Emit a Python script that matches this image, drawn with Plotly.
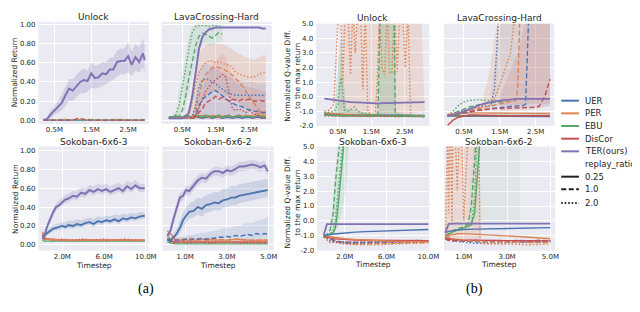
import plotly.graph_objects as go

W, H = 640, 312
COL = {"UER": "#4C72B0", "PER": "#DD8452", "EBU": "#55A868", "DisCor": "#C44E52", "TER": "#8172B3"}
DASH = {"0.25": "solid", "1.0": "5px,2.5px", "2.0": "1.5px,2px"}
METHODS = ["UER", "PER", "EBU", "DisCor", "TER(ours)"]
RATIOS = ["0.25", "1.0", "2.0"]

# ---------------- (a) Unlock ----------------
a1_x = [0.2,0.3,0.4,0.5,0.6,0.7,0.8,0.9,1.0,1.1,1.2,1.3,1.4,1.5,1.6,1.7,1.8,1.9,2.0,2.1,2.2,2.3,2.4,2.5,2.6,2.7,2.8,2.9,2.95]
a1_ter = [0.00,0.01,0.06,0.10,0.14,0.18,0.26,0.33,0.31,0.36,0.40,0.42,0.41,0.49,0.44,0.45,0.49,0.48,0.53,0.53,0.61,0.62,0.62,0.67,0.58,0.66,0.61,0.70,0.63]
a1_ter_lo = [0.00,0.00,0.02,0.05,0.08,0.10,0.15,0.20,0.20,0.24,0.28,0.28,0.30,0.34,0.33,0.34,0.36,0.38,0.40,0.42,0.46,0.48,0.48,0.50,0.46,0.52,0.50,0.55,0.50]
a1_ter_hi = [0.00,0.03,0.10,0.15,0.20,0.27,0.36,0.43,0.43,0.48,0.52,0.54,0.52,0.60,0.57,0.58,0.61,0.60,0.65,0.66,0.73,0.75,0.75,0.82,0.72,0.80,0.76,0.86,0.78]
a1_fx = [0.2,0.5,0.8,1.0,1.15,1.25,1.4,1.8,2.2,2.6,2.95]
a1_dis_dash = [0.0,0.0,0.0,0.0,0.02,0.01,0.0,0.0,0.0,0.0,0.0]
a1_ebu_dash = [0.005,0.0,0.005,0.0,0.005,0.0,0.005,0.0,0.005,0.0,0.005]
a1_uer_sol = [0.0,0.0,0.0,0.0,0.0,0.0,0.0,0.0,0.0,0.0,0.0]
a1_per_dot = [0.01,0.0,0.01,0.0,0.01,0.0,0.01,0.0,0.01,0.0,0.0]

# ---------------- (a) LavaCrossing-Hard ----------------
a2_x = [0.1,0.3,0.5,0.6,0.7,0.8,0.9,1.0,1.1,1.2,1.3,1.4,1.5,1.6,1.7,1.8,1.9,2.0,2.1,2.2,2.3,2.4,2.5,2.6,2.7,2.8,2.9,3.0]
a2_ter = [0.02,0.02,0.02,0.03,0.08,0.25,0.52,0.75,0.87,0.92,0.95,0.96,0.97,0.97,0.97,0.97,0.97,0.97,0.97,0.97,0.97,0.97,0.97,0.97,0.97,0.97,0.96,0.96]
a2_per_dot = [0.02,0.03,0.03,0.04,0.08,0.20,0.38,0.50,0.56,0.60,0.62,0.62,0.60,0.61,0.60,0.58,0.58,0.55,0.50,0.48,0.47,0.46,0.45,0.45,0.46,0.48,0.50,0.50]
a2_per_dash = [0.02,0.02,0.02,0.02,0.02,0.03,0.10,0.25,0.40,0.48,0.52,0.55,0.56,0.55,0.54,0.52,0.50,0.47,0.44,0.40,0.36,0.30,0.25,0.20,0.15,0.10,0.06,0.05]
a2_per_sol = [0.03,0.02,0.03,0.02,0.03,0.04,0.03,0.04,0.05,0.04,0.03,0.05,0.04,0.03,0.04,0.05,0.04,0.03,0.04,0.05,0.04,0.05,0.04,0.05,0.06,0.07,0.08,0.08]
a2_dis_dot = [0.02,0.02,0.02,0.02,0.02,0.03,0.05,0.12,0.22,0.30,0.35,0.40,0.42,0.45,0.48,0.45,0.30,0.12,0.10,0.12,0.10,0.08,0.10,0.08,0.06,0.04,0.02,0.02]
a2_dis_dash = [0.02,0.02,0.02,0.02,0.02,0.02,0.04,0.08,0.12,0.18,0.20,0.22,0.25,0.22,0.24,0.22,0.20,0.22,0.21,0.20,0.22,0.21,0.22,0.20,0.20,0.21,0.20,0.20]
a2_uer_dot = [0.02,0.02,0.02,0.02,0.02,0.04,0.15,0.35,0.42,0.43,0.42,0.40,0.38,0.35,0.32,0.30,0.28,0.27,0.26,0.26,0.26,0.26,0.26,0.26,0.26,0.26,0.26,0.26]
a2_uer_dash = [0.02,0.02,0.02,0.02,0.02,0.02,0.05,0.15,0.22,0.25,0.27,0.30,0.31,0.28,0.25,0.22,0.20,0.18,0.16,0.15,0.14,0.12,0.11,0.10,0.09,0.09,0.08,0.08]
a2_low1 = [0.03,0.03,0.02,0.03,0.03,0.02,0.03,0.03,0.02,0.03,0.03,0.02,0.03,0.03,0.02,0.03,0.03,0.02,0.03,0.03,0.02,0.03,0.03,0.02,0.03,0.03,0.02,0.03]
a2_low2 = [0.03,0.04,0.03,0.05,0.04,0.03,0.05,0.04,0.03,0.05,0.04,0.03,0.04,0.05,0.03,0.04,0.05,0.03,0.04,0.05,0.03,0.04,0.04,0.03,0.04,0.05,0.04,0.03]
a2_floor = [0.01,0.01,0.01,0.01,0.01,0.01,0.01,0.01,0.01,0.01,0.01,0.01,0.01,0.01,0.01,0.01,0.01,0.01,0.01,0.01,0.01,0.01,0.01,0.01,0.01,0.01,0.01,0.01]
a2_per_lo = [0.02,0.02,0.02,0.02,0.03,0.05,0.08,0.15,0.20,0.25,0.28,0.30,0.30,0.28,0.28,0.26,0.24,0.22,0.20,0.18,0.16,0.14,0.12,0.10,0.08,0.06,0.04,0.04]
a2_per_hi = [0.03,0.04,0.05,0.06,0.15,0.35,0.55,0.70,0.75,0.78,0.80,0.80,0.80,0.80,0.80,0.78,0.76,0.74,0.72,0.70,0.68,0.66,0.65,0.64,0.64,0.66,0.68,0.68]
a2_dis_hi = [0.02,0.02,0.02,0.02,0.03,0.05,0.10,0.22,0.35,0.45,0.52,0.58,0.62,0.66,0.70,0.66,0.55,0.45,0.40,0.38,0.36,0.35,0.35,0.34,0.33,0.32,0.30,0.30]
a2_uer_hi = [0.02,0.02,0.02,0.02,0.03,0.06,0.25,0.50,0.58,0.60,0.58,0.56,0.55,0.52,0.50,0.48,0.46,0.44,0.42,0.42,0.41,0.40,0.40,0.40,0.39,0.38,0.38,0.38]
a2_ebu_x = [0.1,0.2,0.3,0.4,0.5,0.6,0.7,0.8,0.9,1.0,1.1,1.2,1.3,1.4,1.5,1.6,1.7]
a2_ebu_dot = [0.02,0.03,0.05,0.15,0.33,0.55,0.75,0.92,0.98,0.99,0.99,0.99,0.98,0.99,0.99,0.98,0.99]
a2_ebu_dash = [0.02,0.02,0.03,0.04,0.10,0.25,0.45,0.63,0.78,0.88,0.91,0.90,0.88,0.86,0.89,0.92,0.90]
a2_ebu_lo = [0.02,0.02,0.02,0.03,0.05,0.12,0.30,0.48,0.62,0.72,0.78,0.80,0.78,0.78,0.80,0.82,0.82]
a2_ebu_hi = [0.03,0.05,0.10,0.30,0.50,0.72,0.88,0.98,1.0,1.0,1.0,1.0,1.0,1.0,1.0,1.0,1.0]

# ---------------- (a) Sokoban-6x6-3 ----------------
a3_x = [0.1,0.3,0.5,0.8,1.1,1.4,1.7,2.0,2.3,2.6,3.0,3.4,3.8,4.2,4.6,5.0,5.4,5.8,6.2,6.6,7.0,7.4,7.8,8.2,8.6,9.0,9.4,9.9]
a3_ter = [0.06,0.10,0.18,0.27,0.34,0.40,0.42,0.45,0.48,0.49,0.52,0.51,0.55,0.54,0.58,0.56,0.59,0.57,0.59,0.56,0.58,0.60,0.57,0.62,0.59,0.63,0.60,0.60]
a3_ter_lo = [0.04,0.07,0.14,0.23,0.30,0.36,0.38,0.41,0.44,0.45,0.48,0.47,0.51,0.50,0.54,0.52,0.55,0.53,0.55,0.52,0.54,0.56,0.53,0.58,0.55,0.59,0.56,0.56]
a3_ter_hi = [0.08,0.13,0.22,0.31,0.38,0.44,0.47,0.50,0.53,0.54,0.57,0.57,0.61,0.60,0.63,0.62,0.65,0.63,0.65,0.62,0.64,0.66,0.63,0.68,0.66,0.69,0.65,0.64]
a3_uer = [0.09,0.10,0.12,0.15,0.17,0.18,0.19,0.20,0.19,0.21,0.20,0.22,0.21,0.23,0.24,0.22,0.25,0.24,0.26,0.25,0.27,0.25,0.28,0.27,0.29,0.28,0.30,0.31]
a3_uer_lo = [0.07,0.08,0.09,0.12,0.14,0.15,0.16,0.17,0.16,0.18,0.17,0.19,0.18,0.20,0.21,0.19,0.22,0.21,0.23,0.22,0.24,0.22,0.25,0.24,0.26,0.25,0.27,0.28]
a3_uer_hi = [0.11,0.13,0.16,0.19,0.21,0.22,0.23,0.24,0.24,0.26,0.25,0.27,0.26,0.28,0.29,0.27,0.30,0.29,0.31,0.30,0.32,0.31,0.33,0.32,0.34,0.33,0.35,0.34]
a3_fx = [0.1,0.3,0.6,1.0,2.0,3.0,4.0,5.0,6.0,7.0,8.0,9.0,9.9]
a3_per_sol = [0.14,0.08,0.06,0.06,0.05,0.05,0.05,0.05,0.05,0.05,0.05,0.05,0.05]
a3_per_dot = [0.12,0.06,0.05,0.05,0.05,0.04,0.05,0.05,0.04,0.05,0.05,0.04,0.05]
a3_dis_sol = [0.08,0.07,0.06,0.06,0.05,0.05,0.05,0.05,0.05,0.05,0.05,0.05,0.05]
a3_dis_dot = [0.10,0.06,0.06,0.05,0.06,0.05,0.06,0.05,0.06,0.05,0.06,0.05,0.05]
a3_ebu_sol = [0.05,0.04,0.04,0.04,0.04,0.04,0.04,0.04,0.04,0.04,0.04,0.04,0.04]

# ---------------- (a) Sokoban-6x6-2 ----------------
a4_x = [0.15,0.3,0.45,0.6,0.75,0.9,1.05,1.2,1.4,1.6,1.8,2.0,2.2,2.4,2.6,2.8,3.0,3.2,3.4,3.6,3.8,4.0,4.2,4.4,4.6,4.8,4.95]
a4_ter = [0.09,0.15,0.28,0.40,0.50,0.52,0.58,0.57,0.63,0.68,0.71,0.70,0.75,0.78,0.78,0.76,0.79,0.78,0.80,0.83,0.83,0.84,0.85,0.84,0.82,0.84,0.78]
a4_ter_lo = [0.07,0.11,0.22,0.34,0.45,0.47,0.53,0.52,0.58,0.63,0.66,0.65,0.70,0.73,0.73,0.71,0.74,0.73,0.75,0.78,0.78,0.79,0.80,0.79,0.77,0.79,0.73]
a4_ter_hi = [0.11,0.19,0.33,0.46,0.55,0.57,0.63,0.62,0.68,0.73,0.76,0.75,0.80,0.83,0.83,0.81,0.84,0.83,0.85,0.88,0.88,0.89,0.90,0.89,0.87,0.89,0.83]
a4_uer = [0.06,0.05,0.08,0.12,0.18,0.26,0.31,0.35,0.36,0.40,0.38,0.42,0.43,0.45,0.44,0.47,0.48,0.50,0.50,0.52,0.53,0.54,0.55,0.56,0.57,0.58,0.58]
a4_uer_lo = [0.04,0.03,0.05,0.08,0.12,0.19,0.24,0.28,0.29,0.32,0.30,0.34,0.35,0.37,0.36,0.39,0.40,0.42,0.42,0.44,0.45,0.46,0.47,0.48,0.49,0.50,0.50]
a4_uer_hi = [0.08,0.08,0.12,0.17,0.25,0.34,0.40,0.44,0.46,0.50,0.49,0.53,0.54,0.56,0.56,0.59,0.60,0.62,0.62,0.64,0.65,0.66,0.67,0.68,0.69,0.70,0.70]
a4_uer_dash = [0.05,0.04,0.05,0.05,0.05,0.05,0.06,0.05,0.06,0.06,0.07,0.06,0.07,0.07,0.08,0.08,0.09,0.08,0.10,0.09,0.10,0.11,0.10,0.12,0.11,0.12,0.11]
a4_uer_dash_lo = [0.04,0.03,0.03,0.03,0.03,0.03,0.04,0.03,0.04,0.04,0.04,0.04,0.04,0.04,0.05,0.05,0.05,0.05,0.06,0.05,0.06,0.06,0.06,0.07,0.06,0.07,0.06]
a4_uer_dash_hi = [0.06,0.06,0.07,0.08,0.08,0.09,0.10,0.10,0.11,0.12,0.13,0.13,0.14,0.15,0.16,0.17,0.18,0.18,0.20,0.20,0.22,0.23,0.23,0.25,0.26,0.28,0.30]
a4_fx = [0.15,0.3,0.5,0.8,1.2,1.6,2.0,2.5,3.0,3.5,4.0,4.95]
a4_per_sol = [0.15,0.12,0.06,0.05,0.05,0.05,0.06,0.05,0.05,0.06,0.05,0.05]
a4_per_dash = [0.08,0.06,0.05,0.06,0.07,0.06,0.05,0.06,0.05,0.06,0.05,0.05]
a4_per_dot = [0.12,0.05,0.04,0.03,0.04,0.03,0.04,0.04,0.03,0.04,0.04,0.04]
a4_dis_sol = [0.05,0.04,0.03,0.03,0.03,0.03,0.03,0.03,0.03,0.03,0.03,0.03]
a4_dis_dot = [0.06,0.03,0.02,0.03,0.02,0.03,0.02,0.02,0.03,0.02,0.02,0.02]
a4_ebu_sol = [0.03,0.02,0.01,0.01,0.01,0.01,0.01,0.01,0.01,0.01,0.01,0.01]

# ---------------- (b) Unlock ----------------
b1_x = [0.1,0.3,0.5,0.7,0.9,1.1,1.3,1.5,1.7,1.9,2.1,2.3,2.5,2.7,2.9,3.1]
b1_ter = [-0.12,-0.2,-0.27,-0.32,-0.36,-0.39,-0.42,-0.45,-0.45,-0.44,-0.43,-0.42,-0.41,-0.40,-0.38,-0.36]
b1_uer_sol = [-1.15,-1.2,-1.2,-1.22,-1.22,-1.23,-1.23,-1.24,-1.24,-1.25,-1.25,-1.25,-1.26,-1.26,-1.27,-1.27]
b1_per_sol = [-1.1,-1.15,-1.2,-1.22,-1.25,-1.25,-1.27,-1.28,-1.28,-1.3,-1.3,-1.3,-1.31,-1.31,-1.32,-1.32]
b1_dis_sol = [-1.2,-1.25,-1.27,-1.28,-1.28,-1.29,-1.3,-1.3,-1.3,-1.31,-1.31,-1.32,-1.32,-1.33,-1.33,-1.34]
b1_ebu_sol = [-1.25,-1.28,-1.3,-1.3,-1.31,-1.31,-1.32,-1.32,-1.32,-1.33,-1.33,-1.33,-1.34,-1.34,-1.35,-1.35]
b1_dis_dot = [-1.3,-1.32,-1.3,-1.35,-1.3,-1.35,-1.32,-1.36,-1.3,-1.35,-1.33,-1.37,-1.32,-1.36,-1.34,-1.38]
b1_per_dot_x = [0.1,0.25,0.38,0.45,0.52,0.58,0.65,0.72,0.8,0.88,0.95,1.02,1.1,1.18,1.25,1.32,1.4,1.48,1.56,1.62,1.68,1.75,1.82,1.9,1.98,2.05,2.12,2.2,2.28,2.36,2.44,2.52,2.6,2.68,2.76,2.85,2.95,3.1]
b1_per_dot = [-1.0,-0.9,-0.5,2.5,6,6,1.0,6,6,1.5,6,3.0,6,6,0.5,6,-1.0,-1.2,-1.3,-1.2,1.0,6,2.0,1.5,6,1.7,1.6,6,1.7,6,6,2.0,6,-1.2,-1.3,-1.3,-1.35,-1.35]
b1_ebu_dash_x = [0.1,0.5,1.0,1.5,1.7,1.74,1.78,2.18,2.22,2.6,3.1]
b1_ebu_dash = [-1.25,-1.3,-1.3,-1.3,-1.25,3.0,8.0,8.0,-1.2,-1.3,-1.3]
b1_ebu_dot_x = [0.1,0.4,0.5,0.55,0.6,0.65,0.7,0.8,1.0,1.1,1.2,1.4,2.0,3.1]
b1_ebu_dot = [-1.1,-1.0,-0.5,0.8,1.3,0.0,-0.9,-1.0,-0.7,-1.0,-1.1,-1.2,-1.3,-1.3]
b1_ebu_band_x = [0.1,0.4,0.5,0.58,0.66,0.75,1.0,1.6,1.72,1.76,2.2,2.24,2.5,3.1]
b1_ebu_lo = [-1.3,-1.3,-1.3,-1.2,-1.3,-1.3,-1.3,-1.3,-1.3,-1.3,-1.3,-1.3,-1.3,-1.3]
b1_ebu_hi = [-1.2,-1.0,2.0,4.0,1.5,-0.8,-0.9,-1.2,-1.0,6.0,6.0,-1.0,-1.2,-1.2]
b1_per_band_x = [0.5,0.65,0.8,1.5,2.5,3.0,3.1]
b1_per_lo = [-1.3,-1.3,-1.3,-1.3,-1.3,-1.0,-1.2]
b1_per_hi = [-0.8,5.5,6.0,6.0,6.0,6.0,-1.0]

# ---------------- (b) LavaCrossing-Hard ----------------
b2_x = [0.05,0.2,0.35,0.5,0.65,0.8,0.95,1.1,1.25,1.4,1.55,1.7,1.85,2.0,2.15,2.3,2.45,2.6,2.75,2.9]
b2_ter = [-1.3,-1.25,-1.15,-1.0,-0.85,-0.68,-0.55,-0.45,-0.36,-0.3,-0.25,-0.2,-0.17,-0.15,-0.15,-0.15,-0.15,-0.15,-0.15,-0.15]
b2_dis_sol = [-1.95,-1.6,-1.4,-1.3,-1.25,-1.25,-1.27,-1.28,-1.3,-1.3,-1.3,-1.3,-1.3,-1.3,-1.3,-1.3,-1.3,-1.3,-1.3,-1.3]
b2_ebu_sol = [-1.3,-1.3,-1.28,-1.27,-1.27,-1.27,-1.27,-1.27,-1.27,-1.27,-1.27,-1.27,-1.27,-1.27,-1.27,-1.27,-1.27,-1.27,-1.27,-1.27]
b2_uer_sol = [-1.3,-1.32,-1.33,-1.33,-1.33,-1.33,-1.33,-1.34,-1.34,-1.34,-1.34,-1.34,-1.34,-1.35,-1.35,-1.35,-1.35,-1.35,-1.35,-1.35]
b2_per_sol = [-1.25,-1.2,-1.15,-1.1,-1.1,-1.1,-1.1,-1.12,-1.12,-1.12,-1.15,-1.15,-1.15,-1.15,-1.15,-1.15,-1.15,-1.15,-1.15,-1.15]
b2_dis_dot = [-1.3,-1.3,-1.32,-1.3,-1.28,-1.3,-1.32,-1.3,-1.28,-1.3,-1.32,-1.3,-1.28,-1.3,-1.32,-1.3,-1.28,-1.3,-1.32,-1.3]
b2_dis_dash = [-1.3,-1.2,-1.1,-1.05,-1.0,-0.95,-0.9,-0.85,-0.82,-0.8,-0.8,-0.78,-0.78,-0.76,-0.75,-0.75,-0.72,-0.65,0.0,1.2]
b2_ebu_dot_x = [0.05,0.2,0.35,0.5,0.65,0.8,0.95,1.1,1.25,1.4]
b2_ebu_dot = [-1.3,-1.0,-0.6,-0.35,-0.25,-0.2,-0.2,-0.25,-0.28,-0.3]
b2_ebu_dash_x = [0.05,0.2,0.35,0.5,0.65,0.8,0.95,1.1,1.25,1.4,1.55,1.7]
b2_ebu_dash = [-1.3,-1.15,-0.95,-0.8,-0.7,-0.6,-0.5,-0.45,-0.4,-0.35,-0.32,-0.3]
b2_uer_dot_x = [0.05,0.2,0.35,0.5,0.65,0.8,0.95,1.1,1.25,1.35,1.42,1.48]
b2_uer_dot = [-1.25,-1.1,-1.0,-0.95,-0.85,-0.8,-0.7,-0.65,-0.6,0.5,3.5,6.0]
b2_per_dot_x = [0.05,0.35,0.65,0.95,1.1,1.25,1.34,1.5,1.7,1.8,1.85,1.9,1.95]
b2_per_dot = [-1.2,-1.1,-0.95,-0.7,-0.5,-0.3,-0.2,0.8,2.3,3.0,4.0,5.5,6.5]
b2_per_dash_x = [0.05,0.35,0.65,0.95,1.25,1.55,1.8,1.95,2.0,2.03,2.06,2.1]
b2_per_dash = [-1.25,-1.1,-0.95,-0.8,-0.65,-0.5,-0.35,-0.25,0.5,3.0,5.5,6.5]
b2_uer_dash_x = [0.05,0.35,0.65,0.95,1.25,1.55,1.85,2.0,2.15,2.22,2.25,2.28,2.32]
b2_uer_dash = [-1.3,-1.2,-1.05,-0.9,-0.8,-0.7,-0.65,-0.62,-0.6,-0.5,1.5,4.5,6.5]
b2_per_band_x = [1.0,1.2,1.35,1.5,2.4,2.9]
b2_per_lo = [-0.9,-0.8,-0.7,-0.6,-0.5,-0.5]
b2_per_hi = [-0.5,1.5,4.0,6.0,6.0,6.0]
b2_dis_band_x = [1.5,2.0,2.3,2.6,2.9]
b2_dis_lo = [-1.0,-0.9,-0.9,-0.8,-0.6]
b2_dis_hi = [0.0,3.0,6.0,6.0,6.0]
b2_uer_band_x = [1.2,1.4,1.6,2.2,2.9]
b2_uer_lo = [-0.9,-0.8,-0.8,-0.7,-0.7]
b2_uer_hi = [-0.3,3.0,6.0,6.0,6.0]

# ---------------- (b) Sokoban-6x6-3 ----------------
b3_x = [0.0,0.3,0.6,1.0,1.5,2.0,3.0,4.0,5.0,6.0,7.0,8.0,9.0,10.0]
b3_ter = [-0.95,-0.22,-0.22,-0.22,-0.22,-0.22,-0.21,-0.21,-0.21,-0.21,-0.21,-0.21,-0.22,-0.22]
b3_uer_sol = [-1.0,-0.95,-0.92,-0.88,-0.84,-0.8,-0.75,-0.72,-0.69,-0.66,-0.64,-0.62,-0.6,-0.58]
b3_per_sol = [-1.0,-1.0,-1.05,-1.1,-1.15,-1.2,-1.25,-1.3,-1.32,-1.35,-1.37,-1.38,-1.4,-1.4]
b3_per_dot = [-1.0,-1.2,-1.35,-1.45,-1.5,-1.55,-1.6,-1.62,-1.6,-1.58,-1.55,-1.5,-1.45,-1.45]
b3_per_dash = [-1.0,-1.1,-1.25,-1.35,-1.45,-1.5,-1.55,-1.55,-1.55,-1.5,-1.5,-1.48,-1.45,-1.45]
b3_uer_dot = [-1.0,-1.1,-1.3,-1.4,-1.45,-1.5,-1.5,-1.48,-1.45,-1.45,-1.42,-1.35,-1.3,-1.35]
b3_uer_dash = [-1.0,-1.1,-1.2,-1.3,-1.38,-1.42,-1.45,-1.45,-1.45,-1.42,-1.4,-1.38,-1.35,-1.38]
b3_dis_sol = [-1.05,-1.1,-1.15,-1.2,-1.22,-1.25,-1.28,-1.3,-1.3,-1.32,-1.32,-1.33,-1.33,-1.33]
b3_dis_dot = [-1.1,-1.3,-1.45,-1.4,-1.38,-1.4,-1.42,-1.4,-1.42,-1.4,-1.42,-1.4,-1.42,-1.4]
b3_ebu_x = [0.0,0.3,0.6,0.9,1.1,1.3,1.5,1.7,1.9,2.1]
b3_ebu_dash = [-1.0,-0.9,-0.6,0.5,2.5,4.5,6.0,6.5,6.5,6.5]
b3_ebu_sol = [-1.0,-0.95,-0.9,-0.8,-0.5,0.5,2.0,3.5,5.0,6.5]
b3_ebu_dot = [-1.0,-0.95,-0.85,-0.6,0.0,1.5,3.0,4.5,6.0,6.5]
b3_ebu_band_x = [0.6,0.9,1.3,1.7,2.1,2.4]
b3_ebu_lo = [-0.9,-0.8,-0.5,0.5,2.0,5.0]
b3_ebu_hi = [-0.5,1.5,5.0,6.0,6.0,6.0]

# ---------------- (b) Sokoban-6x6-2 ----------------
b4_x = [0.15,0.3,0.5,0.75,1.0,1.5,2.0,2.5,3.0,3.5,4.0,4.5,5.0]
b4_ter = [-0.8,-0.2,-0.18,-0.18,-0.18,-0.18,-0.18,-0.18,-0.18,-0.18,-0.18,-0.18,-0.18]
b4_uer_sol = [-0.8,-0.7,-0.65,-0.6,-0.58,-0.55,-0.53,-0.52,-0.5,-0.49,-0.47,-0.46,-0.45]
b4_per_sol = [-1.0,-0.95,-0.9,-0.85,-0.85,-0.88,-0.92,-0.96,-1.0,-1.05,-1.1,-1.15,-1.2]
b4_uer_dash = [-1.2,-1.3,-1.3,-1.3,-1.35,-1.4,-1.4,-1.42,-1.4,-1.4,-1.38,-1.35,-1.35]
b4_uer_dot = [-1.2,-1.3,-1.35,-1.4,-1.45,-1.5,-1.5,-1.48,-1.5,-1.48,-1.45,-1.45,-1.4]
b4_per_dash = [-1.0,-1.1,-1.2,-1.25,-1.3,-1.35,-1.4,-1.42,-1.45,-1.45,-1.45,-1.45,-1.45]
b4_dis_sol = [-1.1,-1.2,-1.25,-1.3,-1.3,-1.3,-1.32,-1.32,-1.33,-1.33,-1.33,-1.34,-1.34]
b4_dis_dash = [-1.2,-1.3,-1.35,-1.3,-1.35,-1.3,-1.35,-1.3,-1.35,-1.3,-1.35,-1.3,-1.35]
b4_per_dot_x = [0.15,0.25,0.3,0.35,0.4,0.45,0.5,0.6,0.7,0.8,0.9,1.0,1.2,1.4,1.6,1.7,1.75,2.0,3.0,4.0,5.0]
b4_per_dot = [-1.0,6.0,0.5,6.0,6.0,-0.3,6.0,6.0,2.0,6.0,6.0,0.0,6.0,6.0,6.0,6.0,-1.5,-1.55,-1.55,-1.6,-1.55]
b4_ebu_x = [0.15,0.3,0.5,0.75,1.0,1.2,1.35,1.5,1.6,1.8]
b4_ebu_sol = [-1.0,-0.9,-0.7,-0.55,-0.45,-0.35,-0.2,0.5,2.5,6.5]
b4_ebu_dash = [-1.0,-0.85,-0.65,-0.5,-0.4,-0.2,1.0,4.0,6.5,6.5]
b4_ebu_dot = [-1.0,-0.9,-0.75,-0.6,-0.5,-0.4,-0.3,1.5,5.0,6.5]
b4_per_band_x = [0.15,0.3,1.7,1.8]
b4_per_lo = [-1.2,-1.3,-1.3,-1.5]
b4_per_hi = [-0.8,6.0,6.0,-1.4]
b4_ebu_band_x = [1.2,1.5,2.0,3.0,3.6]
b4_ebu_lo = [-0.4,-0.3,-0.2,-0.2,-0.2]
b4_ebu_hi = [0.5,6.0,6.0,6.0,6.0]

# ---------------- ticks ----------------
a_top_xt = [0.5, 1.5, 2.5]; a_top_xl = ["0.5M", "1.5M", "2.5M"]
sok3_xt = [2, 6, 10]; sok3_xl = ["2.0M", "6.0M", "10.0M"]
sok2_xt = [1, 3, 5]; sok2_xl = ["1.0M", "3.0M", "5.0M"]
ret_yt = [0, 0.2, 0.4, 0.6, 0.8, 1.0]; ret_yl = ["0.00", "0.20", "0.40", "0.60", "0.80", "1.00"]
q_yt = [-2, -1, 0, 1, 2, 3, 4, 5]; q_yl = ["-2.0", "-1.0", "0.0", "1.0", "2.0", "3.0", "4.0", "5.0"]

fig = go.Figure()


def ax_ids(n):
    return ("x" if n == 1 else f"x{n}"), ("y" if n == 1 else f"y{n}")


def rgba(h, a):
    h = h.lstrip("#")
    return f"rgba({int(h[0:2],16)},{int(h[2:4],16)},{int(h[4:6],16)},{a})"


def line(n, x, y, m, r, w=1.4):
    xa, ya = ax_ids(n)
    fig.add_trace(go.Scatter(x=x, y=y, mode="lines", xaxis=xa, yaxis=ya,
                             line=dict(color=COL[m], width=w, dash=DASH[r]),
                             showlegend=False, hoverinfo="skip"))


def band(n, x, lo, hi, m, a=0.2):
    xa, ya = ax_ids(n)
    fig.add_trace(go.Scatter(x=list(x) + list(x)[::-1], y=list(hi) + list(lo)[::-1],
                             mode="lines", fill="toself", fillcolor=rgba(COL[m], a),
                             line=dict(width=0), xaxis=xa, yaxis=ya,
                             showlegend=False, hoverinfo="skip"))


# panel 1: (a) Unlock
band(1, a1_x, a1_ter_lo, a1_ter_hi, "TER", 0.22)
line(1, a1_fx, a1_uer_sol, "UER", "0.25")
line(1, a1_fx, a1_per_dot, "PER", "2.0")
line(1, a1_fx, a1_ebu_dash, "EBU", "1.0")
line(1, a1_fx, a1_dis_dash, "DisCor", "1.0")
line(1, a1_x, a1_ter, "TER", "0.25", 2)

# panel 2: (a) LavaCrossing-Hard
band(2, a2_x, a2_per_lo, a2_per_hi, "PER", 0.2)
band(2, a2_x, a2_floor, a2_dis_hi, "DisCor", 0.13)
band(2, a2_x, a2_floor, a2_uer_hi, "UER", 0.13)
band(2, a2_ebu_x, a2_ebu_lo, a2_ebu_hi, "EBU", 0.14)
line(2, a2_x, a2_low1, "UER", "0.25")
line(2, a2_x, a2_low2, "DisCor", "0.25")
line(2, a2_x, a2_per_sol, "PER", "0.25")
line(2, a2_x, a2_low2, "EBU", "0.25")
line(2, a2_x, a2_uer_dash, "UER", "1.0")
line(2, a2_x, a2_uer_dot, "UER", "2.0")
line(2, a2_x, a2_dis_dash, "DisCor", "1.0")
line(2, a2_x, a2_dis_dot, "DisCor", "2.0")
line(2, a2_x, a2_per_dash, "PER", "1.0")
line(2, a2_x, a2_per_dot, "PER", "2.0")
line(2, a2_ebu_x, a2_ebu_dash, "EBU", "1.0")
line(2, a2_ebu_x, a2_ebu_dot, "EBU", "2.0")
line(2, a2_x, a2_ter, "TER", "0.25", 2)

# panel 3: (a) Sokoban-6x6-3
band(3, a3_x, a3_uer_lo, a3_uer_hi, "UER", 0.2)
band(3, a3_x, a3_ter_lo, a3_ter_hi, "TER", 0.2)
line(3, a3_fx, a3_ebu_sol, "EBU", "0.25")
line(3, a3_fx, a3_dis_sol, "DisCor", "0.25")
line(3, a3_fx, a3_dis_dot, "DisCor", "2.0")
line(3, a3_fx, a3_per_sol, "PER", "0.25")
line(3, a3_fx, a3_per_dot, "PER", "2.0")
line(3, a3_x, a3_uer, "UER", "0.25", 1.8)
line(3, a3_x, a3_ter, "TER", "0.25", 2)

# panel 4: (a) Sokoban-6x6-2
band(4, a4_x, a4_uer_dash_lo, a4_uer_dash_hi, "UER", 0.15)
band(4, a4_x, a4_uer_lo, a4_uer_hi, "UER", 0.2)
band(4, a4_x, a4_ter_lo, a4_ter_hi, "TER", 0.2)
line(4, a4_fx, a4_ebu_sol, "EBU", "0.25")
line(4, a4_fx, a4_dis_sol, "DisCor", "0.25")
line(4, a4_fx, a4_dis_dot, "DisCor", "2.0")
line(4, a4_fx, a4_per_sol, "PER", "0.25")
line(4, a4_fx, a4_per_dash, "PER", "1.0")
line(4, a4_fx, a4_per_dot, "PER", "2.0")
line(4, a4_x, a4_uer_dash, "UER", "1.0")
line(4, a4_x, a4_uer, "UER", "0.25", 1.8)
line(4, a4_x, a4_ter, "TER", "0.25", 2)

# panel 5: (b) Unlock
band(5, b1_per_band_x, b1_per_lo, b1_per_hi, "PER", 0.18)
band(5, b1_ebu_band_x, b1_ebu_lo, b1_ebu_hi, "EBU", 0.22)
line(5, b1_x, b1_uer_sol, "UER", "0.25")
line(5, b1_x, b1_per_sol, "PER", "0.25")
line(5, b1_x, b1_dis_sol, "DisCor", "0.25")
line(5, b1_x, b1_ebu_sol, "EBU", "0.25")
line(5, b1_x, b1_dis_dot, "DisCor", "2.0")
line(5, b1_per_dot_x, b1_per_dot, "PER", "2.0")
line(5, b1_ebu_dot_x, b1_ebu_dot, "EBU", "2.0")
line(5, b1_ebu_dash_x, b1_ebu_dash, "EBU", "1.0")
line(5, b1_x, b1_ter, "TER", "0.25", 1.8)

# panel 6: (b) LavaCrossing-Hard
band(6, b2_per_band_x, b2_per_lo, b2_per_hi, "PER", 0.18)
band(6, b2_uer_band_x, b2_uer_lo, b2_uer_hi, "UER", 0.08)
band(6, b2_dis_band_x, b2_dis_lo, b2_dis_hi, "DisCor", 0.13)
line(6, b2_x, b2_uer_sol, "UER", "0.25")
line(6, b2_x, b2_ebu_sol, "EBU", "0.25")
line(6, b2_x, b2_per_sol, "PER", "0.25")
line(6, b2_x, b2_dis_dot, "DisCor", "2.0")
line(6, b2_x, b2_dis_sol, "DisCor", "0.25")
line(6, b2_ebu_dash_x, b2_ebu_dash, "EBU", "1.0")
line(6, b2_ebu_dot_x, b2_ebu_dot, "EBU", "2.0")
line(6, b2_uer_dot_x, b2_uer_dot, "UER", "2.0")
line(6, b2_uer_dash_x, b2_uer_dash, "UER", "1.0")
line(6, b2_per_dot_x, b2_per_dot, "PER", "2.0")
line(6, b2_per_dash_x, b2_per_dash, "PER", "1.0")
line(6, b2_x, b2_dis_dash, "DisCor", "1.0")
line(6, b2_x, b2_ter, "TER", "0.25", 1.8)

# panel 7: (b) Sokoban-6x6-3
band(7, b3_ebu_band_x, b3_ebu_lo, b3_ebu_hi, "EBU", 0.15)
line(7, b3_x, b3_per_dot, "PER", "2.0")
line(7, b3_x, b3_per_dash, "PER", "1.0")
line(7, b3_x, b3_uer_dot, "UER", "2.0")
line(7, b3_x, b3_uer_dash, "UER", "1.0")
line(7, b3_x, b3_dis_dot, "DisCor", "2.0")
line(7, b3_x, b3_dis_sol, "DisCor", "0.25")
line(7, b3_x, b3_per_sol, "PER", "0.25")
line(7, b3_ebu_x, b3_ebu_sol, "EBU", "0.25")
line(7, b3_ebu_x, b3_ebu_dash, "EBU", "1.0")
line(7, b3_ebu_x, b3_ebu_dot, "EBU", "2.0")
line(7, b3_x, b3_uer_sol, "UER", "0.25")
line(7, b3_x, b3_ter, "TER", "0.25", 1.8)

# panel 8: (b) Sokoban-6x6-2
band(8, b4_per_band_x, b4_per_lo, b4_per_hi, "PER", 0.18)
band(8, b4_ebu_band_x, b4_ebu_lo, b4_ebu_hi, "EBU", 0.07)
line(8, b4_x, b4_uer_dot, "UER", "2.0")
line(8, b4_x, b4_uer_dash, "UER", "1.0")
line(8, b4_x, b4_dis_sol, "DisCor", "0.25")
line(8, b4_x, b4_dis_dash, "DisCor", "1.0")
line(8, b4_x, b4_per_dash, "PER", "1.0")
line(8, b4_per_dot_x, b4_per_dot, "PER", "2.0")
line(8, b4_ebu_x, b4_ebu_sol, "EBU", "0.25")
line(8, b4_ebu_x, b4_ebu_dash, "EBU", "1.0")
line(8, b4_ebu_x, b4_ebu_dot, "EBU", "2.0")
line(8, b4_x, b4_per_sol, "PER", "0.25")
line(8, b4_x, b4_uer_sol, "UER", "0.25")
line(8, b4_x, b4_ter, "TER", "0.25", 1.8)

# ---------------- axes layout (pixel boxes) ----------------
TICKF = dict(family="DejaVu Sans", size=7, color="#262626")
BOX = {
    1: ((31, 143, 10, 115), [0.07, 3.06], [-0.041, 1.031], a_top_xt, a_top_xl, ret_yt, ret_yl, True),
    2: ((156, 268, 10, 115), [-0.12, 3.18], [-0.041, 1.031], a_top_xt, a_top_xl, ret_yt, ret_yl, False),
    3: ((31, 143, 138, 245), [-0.28, 10.28], [-0.062, 1.041], sok3_xt, sok3_xl, ret_yt, ret_yl, True),
    4: ((157, 270, 138, 245), [-0.08, 5.24], [-0.062, 1.041], sok2_xt, sok2_xl, ret_yt, ret_yl, False),
    5: ((313, 428, 12, 117), [-0.15, 3.24], [-2, 5], a_top_xt, a_top_xl, q_yt, q_yl, True),
    6: ((443, 555, 12, 117), [-0.05, 3.02], [-2, 5], a_top_xt, a_top_xl, q_yt, q_yl, False),
    7: ((314, 428, 138, 245), [-0.64, 10.09], [-2, 5], sok3_xt, sok3_xl, q_yt, q_yl, True),
    8: ((443, 556, 138, 245), [0.09, 5.23], [-2, 5], sok2_xt, sok2_xl, q_yt, q_yl, False),
}
lay = {}
for n, (bx, xr, yr, xt, xl, yt, yl, showy) in BOX.items():
    l, r, t, b = bx
    sfx = "" if n == 1 else str(n)
    lay["xaxis" + sfx] = dict(domain=[l / W, r / W], range=xr, anchor="y" + sfx,
                             tickvals=xt, ticktext=xl, showgrid=True, gridcolor="white",
                             gridwidth=1, zeroline=False, showline=False, ticks="", ticklen=0,
                             tickfont=TICKF, ticklabelstandoff=0)
    lay["yaxis" + sfx] = dict(domain=[1 - b / H, 1 - t / H], range=yr, anchor="x" + sfx,
                             tickvals=yt, ticktext=yl, showgrid=True, gridcolor="white",
                             gridwidth=1, zeroline=False, showline=False, ticks="", ticklen=0,
                             showticklabels=showy, tickfont=TICKF, ticklabelstandoff=2)

fig.update_layout(**lay)
fig.update_layout(width=W, height=H, margin=dict(l=0, r=0, t=0, b=0),
                  paper_bgcolor="white", plot_bgcolor="#EAEAF2", showlegend=False)

ann = []


def txt(x, y, s, size=9, angle=0, family="DejaVu Sans", xanchor="center", color="#262626"):
    ann.append(dict(x=x / W, y=1 - y / H, xref="paper", yref="paper", text=s, showarrow=False,
                    font=dict(family=family, size=size, color=color), textangle=angle,
                    xanchor=xanchor, yanchor="middle"))


TITLES = [(87, 5, "Unlock"), (212, 5, "LavaCrossing-Hard"), (87, 133, "Sokoban-6x6-3"),
          (213, 133, "Sokoban-6x6-2"), (370, 6, "Unlock"), (499, 6, "LavaCrossing-Hard"),
          (371, 133, "Sokoban-6x6-3"), (499, 133, "Sokoban-6x6-2")]
for x, y, s in TITLES:
    txt(x, y, s, 9)
for x, y in [(87, 260), (213, 260), (371, 259), (499, 259)]:
    txt(x, y, "Timestep", 7.5)
for y in [62, 192]:
    txt(7, y, "Normalized Return", 7.5, -90)
    txt(289, y + 3, "Normalized Q-value Diff.<br>to the max return", 7.5, -90)

txt(140, 284, "(a)", 14, family="Liberation Serif", color="black")
txt(474, 284, "(b)", 14, family="Liberation Serif", color="black")
txt(0, 314, "Figure 4: (a) Learning curves of the normalized return in different environments and (b) the normalized Q-value difference to the max return of the b",
    13, family="Liberation Serif", xanchor="left", color="black")

# legend (drawn manually)
shapes = []
LEG_Y = [91, 104, 117, 130, 143]
for m, y in zip(METHODS, LEG_Y):
    key = "TER" if m.startswith("TER") else m
    shapes.append(dict(type="line", xref="paper", yref="paper", x0=562 / W, x1=580 / W,
                       y0=1 - y / H, y1=1 - y / H, line=dict(color=COL[key], width=2)))
    txt(584, y, m, 8.5, xanchor="left")
txt(584, 156, "replay_ratio", 8.5, xanchor="left")
for r, y in zip(RATIOS, [169, 182, 196]):
    shapes.append(dict(type="line", xref="paper", yref="paper", x0=562 / W, x1=580 / W,
                       y0=1 - y / H, y1=1 - y / H,
                       line=dict(color="#222222", width=2, dash=DASH[r])))
    txt(584, y, r, 8.5, xanchor="left")

fig.update_layout(annotations=ann, shapes=shapes)
fig.write_html("out.html")
